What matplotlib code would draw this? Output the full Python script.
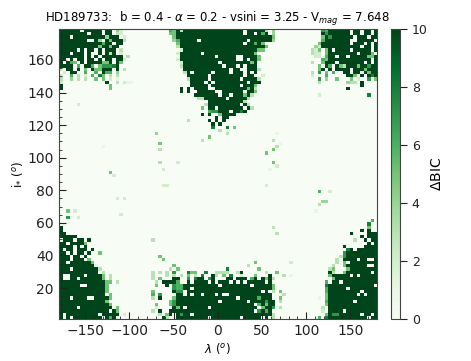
"""Delta-BIC map over lambda and stellar inclination."""

import matplotlib

matplotlib.use("Agg")

import matplotlib.pyplot as plt
import numpy as np
from matplotlib.ticker import AutoMinorLocator, MultipleLocator

LEVELS = {".": 0, "#": 10}

# rows run from the top of the map down, ten cells per group
# "." is 0, "#" is 10 and a digit is its own value
DELTA_BIC_ROWS = [
    "######.### ##.##.42.. .......... .65#3##### ########## ##.#####3. 4......... ....76#### ##.##.##.#",
    "########.# ##.##.32.. .......... .55####### ########## ##.##.#6#. 4......... ....#7#### ##.##.##.#",
    "###.###### ###4###.2. .......... ..5####### ########## ########## 5......... ....5#7### ###.###.##",
    "########.. #4.#5###3. .......... ..46#####. ########## ###.###### 4......... ....6##### ##..#####.",
    "########## ##6##.##.. .......... ...5###### ########## ##.##6#5.. .......... ...5###### ##.###.#.#",
    "########## #5##5##... .......... ...3###### ########## ########5. .......... ..42###### #####.##.#",
    "#####.#.## .#.###.3.. .......... ....2##### ########## ######55.. .......... .325.5#.## ##.#####.#",
    "###.###.#. .#.#3#.2.. .......... ...2###### .######### #####5.... .......... .322.5#### ####.###5.",
    "#######.#. #.######.3 .......... ....###### ####.##### ..####5... .......... ..22.6##.# #.#####55#",
    "##.#.##.## .#.##.##2. .......... ...2###### ########## ..#.##5... .......... ....65#### ########.#",
    "#.#65.#.## ##55#.#5.. .......... ....2##### #####.#### ####5#.... .......... .3..5###.# ######.#.#",
    "####.6.##6 .57778#... .......... ....3##### ######.### .#.###.... .......... ...5.#6.#5 3###5##7##",
    "2.##.#.5.# 55###.#.3. .......... .....##### ########.# #..###3... .......... ...5#.#.## ##.###5###",
    ".2.##..6.. 6.#66.4... .......... .....3#.## ###.####.# ##.#.#.... .......... .3.7.5.6.. ##.##.#5##",
    "2..6.3.2.6 .85.3.3... .......... ......#### ##.####### ##.##..2.. .......... .2...6.... .##5.#.#8#",
    "3..4.3.3.. 5.5.2.1... .......... ......3### ##.####### #.####3... .......... ...7.4..5. ..5.2..7.5",
    "2......... ...#..3.21 1......... .......### #.#.###### ###.###... .......... ...3...... .433.#....",
    "#......... ....5..... .......... .......### ##.####### #.###5.... .......... .......... .....#....",
    "#......... ....5..... .......... ....#.#.## ##..###### ###5#3.... .......... .......... .#........",
    ".......... .......... .......... ....#.#..# ####..#### ##.##5.... .......... .......... ..........",
    ".......... .......... .......... ........## #####.##.# ##5#3..... .......... ...2...... .......8..",
    ".......... .......... .......... .........3 3######.## ###3...... .......... .......... ..........",
    ".......... .......... .......... .......... ..######## ##3....... .......... .......... ..........",
    ".....2.... .......... .......... .......... .3######## #.#3...... .......... .......... ..........",
    ".......... .......... .......... .......... 5.##.##### ##.#3..... .......... .......... ..........",
    ".......... .......... .......... .......... ..677###.# #8#....... .......... .......... ..........",
    ".......... .......... .......... .......... #.#..5#### .......... .......... .......... ..........",
    ".......... .......... .......... .......... ....#.##.. .......... .......... .......... ..........",
    ".......... .......... .......... ......3... ..#.#.#... .......... .......... .......... ..........",
    ".......... .......... .......... .......... ...#.#.... .......... .......... .......... ..........",
    ".......... .......... .......... .......... ...8...8.5 .......... .......... .......... ..........",
    ".......... .......... .......... .......... .....3.... .......... .......... .......... ..........",
    ".......... .......... .......4.. .......... .......3.. .......... .1........ .......... ..........",
    ".......... .......... .......... .......... ..5....... .......... .......... .......... ..........",
    ".......... .......... .......... .......... 3......... .......... 3......... .......... ..........",
    ".......... .......... ........5. .......... .......... .......... ..1....... .......... ..........",
    ".......... ..1....... .......... .......... .......... .......... .3........ .......... ..........",
    ".......... .......... ........3. .......... .......... .......... 5......... .......... ..........",
    ".......... .......... .......... .......... .......... ........5. .......... .......... ..........",
    ".......... .......... .......... .......... .......... .......... .......... .......... ..........",
    ".......... .......... .......... .......... .......... .......... .......... .......... ..........",
    ".......... .......... ........3. ...2...... .......... .......... 5......... .......... ..........",
    ".......... .......... .......... .......... .......... .......... .2........ .......... ..........",
    ".......... .......... .........2 .......... .......... .........1 .......... .......... ..........",
    ".......... ....5..... .......... .......... .......... .......... .......... .......... ..........",
    ".......... .....2.... .......... .......... .......... .......... .......... .......... ..........",
    ".......... .......... .......... .......... .......... .......... .......... .......... ..........",
    ".......... .......... .......... .......... .......... .......... .......... .......... ..........",
    ".......... .......... .........2 2......... .......... ........2. .......... .......... ..........",
    ".......... .......... .......... .......... .......... .......... .......... .......... ..........",
    ".......... .......... .......... .......... .......... .......... .......... ...6..2... ..........",
    ".......... .......... .......... .......... .......... .......... .......... .......... ..........",
    ".......... ......2.2. .......... .......... .......... .......... .......... .......... ..........",
    ".......... .......... .......... .......... .......... .......... .......... ....44.... ..........",
    ".......... .......... .......... .......... .......... .......... .......... ...3...... ..........",
    ".......... .......... .......... .......... .......... .......... .......... .......... ..........",
    "..5.2..... .......... .......... .......... .......... .......... .......... ..1....... ..........",
    ".......... .......2.. .......... .......... .......... .......... .......... .......... ..........",
    "..71.2.... .......... .......... .......... .......... .......... .......... .......... ..........",
    ".......... .......... .......... .......... .......... .......... .......... .......... ........6.",
    ".......... .......... .......... .......... .......... .......... .......... .......... .......8..",
    "#......... .......... .......... .......... .......... .......... 3......... .......... .......5..",
    "#......... .......... .......... .......... .......... .......... .......... .......... .....#.#..",
    "##........ .......... .......... .......... .......... .......... .3........ .......... ..#....###",
    "#####..... .......... .......... .......... .......... .......... .......... .......... .....#.###",
    ".###.##.#. .......... ......3... .......... .......... .......... .......... .......... ...3..#.##",
    "##.####5.. .......... .......... .......... .......... .......... .......... .......... .......#.#",
    "####.#.#.. .......... .......... .......... .......... .......... .......... .......... #.....####",
    "#.##.###.# .......... .......... .......... .......... .......... .......... .......... .8#.######",
    "##.#.##.#. .5........ .......... .......... .......... .......... .......... .......... 7#########",
    "###.##.#.. .......... ........5. .......... .......... .......... .......... .........3 7#########",
    "###.###.5. .......... .........5 .......... .......... .......... .......... ........3. ####.##..#",
    "##.######5 .......... .......... .......... .......... .....5.... .....2.... ........3. 5.########",
    "########## 1......... .......... ..5....... .......... ...3...... .......... .......3.. 5######..#",
    "###.###### #3........ .......... .3.5...... .......8.. ......5... .......... ......35.. .5########",
    "########## #.3....... ......3.3. 3.7...855. .8..3333.. 3#......3. .5........ ......#3.. 5#######.#",
    "#..####.## ##5.3..... ......3... 3.3.3.5.3. 8..#3.5.8. .2...5...# ...3.1.... ......5### ##.#.#####",
    "#..##.#### ##5.3..... ......3.5. ..##..7.8# #.7#...##. ###.6#.#5# 3......... .......5## ##########",
    "########## ###55.3... .......3.# ###6..#.## ##.#.###.# .#.#####.# .......... .....6.##. ##########",
    "######..## ###5...... .......5.. #.766##### #####.#### ####.##### 5......... .....8#### #########.",
    "########## ###5...... .......... ..766##.## ########## ########## 5......... .....6#### #.########",
    "########## ###5...... ......5... ..#77.#### ########## #######.#. 3.5....... .....6#### #####.####",
    "########## ###.5..... ......6.7. ...##.#.## .###.#..## ########## ...3...... .....5#### ####.#.###",
    "###.####.. ####5..... ......3.#. ..5####### ########## .#####6### ..5....... ...1.5#### ##########",
    "########## ###5...... .......... .57####### #####.#### ###.####7# #.3....... .....6#### ###.######",
    "########## ####5..... .......5.. .57####### ########## #####.6#5# #......... .....5#### ##########",
    "#####.#### #####.5... .......2.. ..#5#.#### ##.####### ######.5## 7.3....... ....3.#### ##########",
    "########## ####.#5... ......3.#. .######### ########## #####.7#6# .......... ....2.#### .#########",
    "#.######## #.#####.2. ........3. 5#.#7##.## ########## ########## 3......... .....5#77# #####.##.#",
    "#.#.###### ##.#6#1... .........# 3..####### ##.####### #.#####.#. 3......... ...6.8#### #######.##",
]

LAMBDA_RANGE = [-180, 180]
INCLINATION_RANGE = [1, 179]
X_TICKS = [-150, -100, -50, 0, 50, 100, 150]
Y_TICKS = [20, 40, 60, 80, 100, 120, 140, 160]
CBAR_TICKS = [0, 2, 4, 6, 8, 10]
TITLE = r"HD189733:  b = 0.4 - $\alpha$ = 0.2 - vsini = 3.25 - V$_{mag}$ = 7.648"


def parse_rows(rows):
    """Turn the text rows into a grid of values."""

    grid = []
    for row in rows:
        cells = "".join(row.split())
        if len(cells) != 90:
            raise ValueError(f"Bad row length {len(cells)}: {row}")
        grid.append([LEVELS[c] if c in LEVELS else int(c) for c in cells])
    return np.array(grid, dtype=float)


delta_bic = parse_rows(DELTA_BIC_ROWS)

fig = plt.figure(figsize=(4.71, 3.61), dpi=100)
ax = fig.add_axes([58.5 / 471, 1 - 319 / 361, 318.5 / 471, 290 / 361])
cax = fig.add_axes([390.7 / 471, 1 - 319 / 361, 9.3 / 471, 290 / 361])

image = ax.imshow(
    delta_bic,
    cmap="Greens",
    vmin=0,
    vmax=10,
    aspect="auto",
    interpolation="nearest",
    extent=[LAMBDA_RANGE[0], LAMBDA_RANGE[1], INCLINATION_RANGE[0], INCLINATION_RANGE[1]],
)

ax.set_xticks(X_TICKS)
ax.set_yticks(Y_TICKS)
ax.xaxis.set_minor_locator(AutoMinorLocator(5))
ax.yaxis.set_minor_locator(MultipleLocator(5))
ax.tick_params(which="major", direction="in", length=5, width=0.8, labelsize=10, colors="#222222")
ax.tick_params(which="minor", direction="in", length=2.5, width=0.6, colors="#222222")
ax.set_xlabel(r"$\lambda$ ($^o$)", fontsize=8.5, labelpad=2)
ax.set_ylabel(r"i$_{*}$ ($^o$)", fontsize=8.5, labelpad=2)
ax.set_title(TITLE, fontsize=8.5, pad=5)
for spine in ax.spines.values():
    spine.set_color("#444444")

cbar = fig.colorbar(image, cax=cax, ticks=CBAR_TICKS)
cbar.ax.tick_params(labelsize=9, length=5, width=0.8, colors="#222222")
cbar.outline.set_edgecolor("#444444")
cbar.set_label(r"$\Delta$BIC", fontsize=10, labelpad=2)

fig.savefig("out.png", dpi=100)
